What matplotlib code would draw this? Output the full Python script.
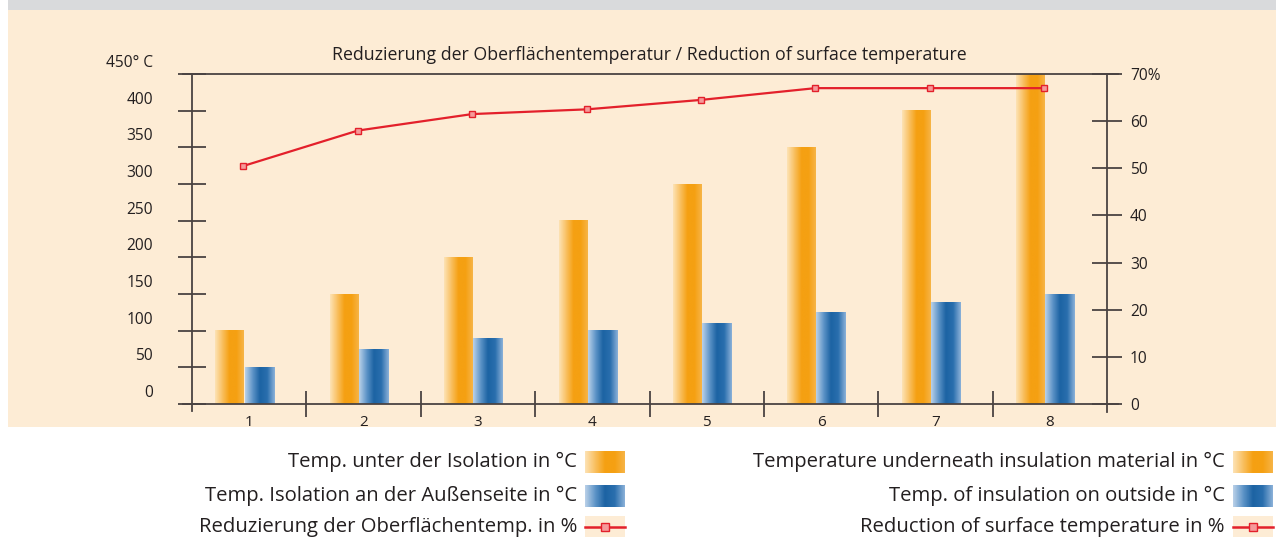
import numpy as np
import matplotlib.pyplot as plt
from matplotlib.colors import LinearSegmentedColormap
from matplotlib.transforms import ScaledTranslation, blended_transform_factory
from matplotlib.patches import Rectangle

plt.rcParams['font.family'] = ['Open Sans', 'DejaVu Sans']

# data
categories = [1, 2, 3, 4, 5, 6, 7, 8]
temp_under = [100, 150, 200, 250, 300, 350, 400, 450]      # °C under insulation
temp_outside = [50, 75, 90, 100, 110, 125, 138, 150]        # °C outside of insulation
reduction = [50.5, 58, 61.5, 62.5, 64.5, 67, 67, 67]        # % reduction
left_ticks = [0, 50, 100, 150, 200, 250, 300, 350, 400, 450]
left_labels = ['0', '50', '100', '150', '200', '250', '300', '350', '400', '450° C']
right_ticks = [0, 10, 20, 30, 40, 50, 60, 70]
right_labels = ['0', '10', '20', '30', '40', '50', '60', '70%']

title = 'Reduzierung der Oberflächentemperatur / Reduction of surface temperature'
legend_de = ['Temp. unter der Isolation in °C',
             'Temp. Isolation an der Außenseite in °C',
             'Reduzierung der Oberflächentemp. in %']
legend_en = ['Temperature underneath insulation material in °C',
             'Temp. of insulation on outside in °C',
             'Reduction of surface temperature in %']

W, H = 1276, 537
fig = plt.figure(figsize=(W / 100, H / 100), dpi=100)
fig.patch.set_facecolor('white')

BEIGE = '#fdecd5'
AXC = '#4a4342'
TXT = '#231f20'
RED = '#e3202b'

orange_cmap = LinearSegmentedColormap.from_list(
    'org', ['#fde2b4', '#f9c061', '#f5a012', '#f5a012', '#f7b446'])
blue_cmap = LinearSegmentedColormap.from_list(
    'blu', ['#b9d0e8', '#5f95c8', '#1c63a3', '#2a6fae', '#8ab0d8'])
grad = np.linspace(0, 1, 64).reshape(1, -1)

# background panel (pixel coords)
bg = fig.add_axes([0, 0, 1, 1], zorder=-5)
bg.set_xlim(0, W)
bg.set_ylim(H, 0)
bg.axis('off')
bg.add_patch(Rectangle((8, 0), W - 8, 10, color='#d9dadc', lw=0))
bg.add_patch(Rectangle((8, 10), W - 8, 417, color=BEIGE, lw=0))

# main chart
ax = fig.add_axes([192 / W, 1 - 404 / H, (1107 - 192) / W, (404 - 74) / H])
ax.patch.set_alpha(0)
for s in ax.spines.values():
    s.set_visible(False)

x = np.array(categories)
bw_o, bw_b = 0.25, 0.26
bars_o = ax.bar(x - 0.17, temp_under, bw_o, color='none')
bars_b = ax.bar(x + 0.09, temp_outside, bw_b, color='none')
for bars, cm in [(bars_o, orange_cmap), (bars_b, blue_cmap)]:
    for r in bars:
        x0, y0, w, h = r.get_x(), r.get_y(), r.get_width(), r.get_height()
        ax.imshow(grad, cmap=cm, extent=[x0, x0 + w, y0, y0 + h],
                  aspect='auto', interpolation='bilinear', zorder=2)

ax.set_xlim(0.5, 8.5)
ax.set_ylim(0, 450)

# axis lines
kw = dict(color=AXC, lw=1.3, transform=ax.transAxes, clip_on=False, zorder=3)
ax.plot([-0.01, 1.012], [1, 1], **kw)
ax.plot([-0.01, 1.012], [0, 0], **kw)
ax.plot([0, 0], [-0.021, 1], **kw)
ax.plot([1, 1], [-0.024, 1], **kw)

# left ticks & labels (labels sit above their ticks)
ax.set_yticks(left_ticks)
ax.set_yticklabels([])
ax.tick_params(axis='y', direction='inout', length=20, width=1.3, color=AXC)
lt = blended_transform_factory(ax.transAxes, ax.transData) + \
    ScaledTranslation(-0.39, 0.11, fig.dpi_scale_trans)
for v, lab in zip(left_ticks, left_labels):
    ax.text(0, v, lab, transform=lt, ha='right', va='center',
            fontsize=11.2, color=TXT)

# x ticks
ax.set_xticks(categories)
ax.set_xticklabels([str(c) for c in categories], fontsize=11, color=TXT)
ax.set_xticks(np.arange(1.5, 8.5, 1), minor=True)
ax.tick_params(axis='x', which='major', length=0, pad=8)
ax.tick_params(axis='x', which='minor', direction='inout', length=19,
               width=1.3, color=AXC)

ax.text(0.5, 1.057, title, transform=ax.transAxes, ha='center', va='center',
        fontsize=12.8, color=TXT)

# right axis with reduction line
ax2 = ax.twinx()
for s in ax2.spines.values():
    s.set_visible(False)
ax2.plot(x - 0.05, reduction, color=RED, lw=1.6, marker='s', ms=4.5,
         mfc='#f59a9a', mec=RED, mew=1.0, zorder=5)
ax2.set_ylim(0, 70)
ax2.set_yticks(right_ticks)
ax2.set_yticklabels([])
ax2.tick_params(axis='y', direction='inout', length=22, width=1.3, color=AXC)
rt = blended_transform_factory(ax2.transAxes, ax2.transData) + \
    ScaledTranslation(0.23, -0.02, fig.dpi_scale_trans)
for v, lab in zip(right_ticks, right_labels):
    ax2.text(1, v, lab, transform=rt, ha='left', va='center',
             fontsize=11.2, color=TXT)

# legend below the panel
rows = [462, 496, 527]
for (txt_list, tx, sx) in [(legend_de, 577, 585), (legend_en, 1225, 1233)]:
    for i, (t, yy) in enumerate(zip(txt_list, rows)):
        bg.text(tx, yy, t, ha='right', va='center', fontsize=14.6, color=TXT)
        if i < 2:
            cm = orange_cmap if i == 0 else blue_cmap
            bg.imshow(grad, cmap=cm, extent=[sx, sx + 40, yy + 11, yy - 11],
                      aspect='auto', interpolation='bilinear')
        else:
            bg.add_patch(Rectangle((sx, yy - 11), 40, 22, color=BEIGE, lw=0))
            bg.plot([sx, sx + 40], [yy, yy], color=RED, lw=1.8)
            bg.plot([sx + 20], [yy], marker='s', ms=6, mfc='#f59a9a',
                    mec=RED, mew=1.0)
bg.set_xlim(0, W)
bg.set_ylim(H, 0)

fig.savefig('out.png', dpi=100, facecolor='white')
